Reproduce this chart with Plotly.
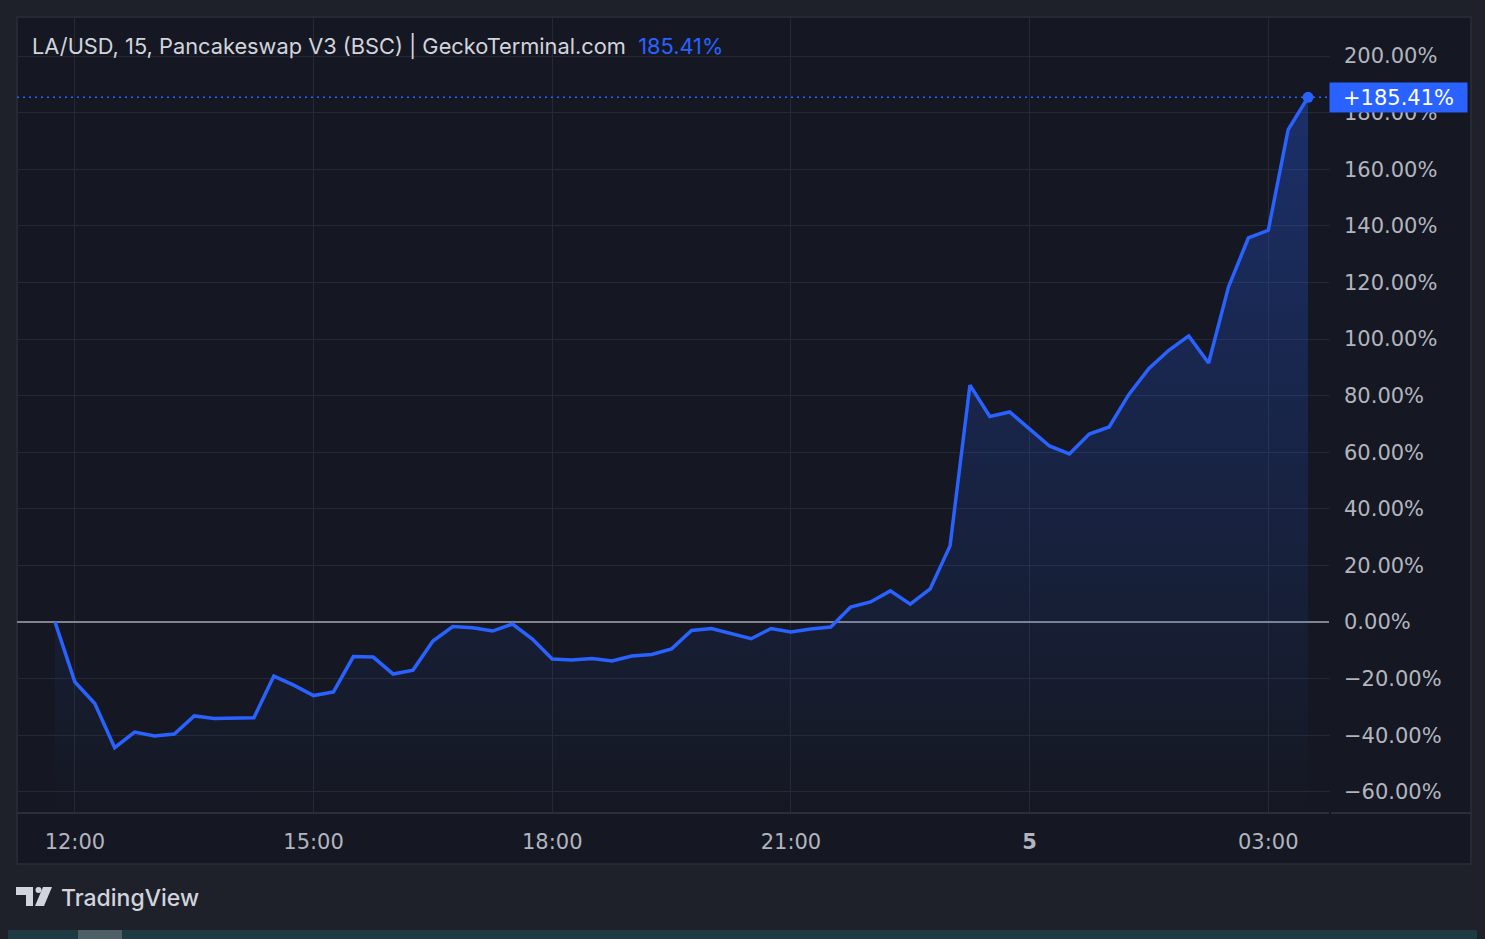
import pandas as pd
import plotly.graph_objects as go

# ---------------- data ----------------
START_TIME = "2025-06-04 11:45"
INTERVAL = "15min"
pct_change = [0, -21.2, -28.8, -44.4, -38.9, -40.3, -39.6, -33.2, -34.1, -33.9,
              -33.8, -19.1, -22.3, -26.0, -24.7, -12.2, -12.4, -18.4, -17.0, -6.7,
              -1.6, -2.0, -3.2, -0.7, -6.0, -13.1, -13.4, -12.9, -13.8, -12.0,
              -11.5, -9.5, -3.0, -2.3, -4.2, -5.9, -2.3, -3.5, -2.5, -1.8,
              5.3, 7.1, 11.0, 6.3, 11.7, 26.9, 83.7, 72.6, 74.2, 68.0,
              62.2, 59.4, 66.4, 68.9, 80.5, 89.6, 96.0, 101.1, 91.5, 118.4,
              135.7, 138.4, 174.0, 185.41]
times = pd.date_range(START_TIME, periods=len(pct_change), freq=INTERVAL)

x_tick_times = ["2025-06-04 12:00", "2025-06-04 15:00", "2025-06-04 18:00",
                "2025-06-04 21:00", "2025-06-05 00:00", "2025-06-05 03:00"]
x_tick_labels = ["12:00", "15:00", "18:00", "21:00", "<b>5</b>", "03:00"]
y_tick_values = [-60, -40, -20, 0, 20, 40, 60, 80, 100, 120, 140, 160, 180, 200]
y_tick_labels = [("\u2212" if v < 0 else "") + f"{abs(v):.2f}%" for v in y_tick_values]

X_RANGE = ["2025-06-04 11:16:20", "2025-06-05 03:45:48"]
Y_RANGE = [-67.49, 213.78]

title_text = "LA/USD, 15, Pancakeswap V3 (BSC) | GeckoTerminal.com"
last_value = pct_change[-1]

# ---------------- styling ----------------
OFF = 8                      # page body margin
PAGE_W, PAGE_H = 1485, 939
W, H = PAGE_W - OFF, PAGE_H - OFF
PLOT_L, PLOT_R, PLOT_T, PLOT_B = 17, 1329, 17, 813   # page pixels
ML, MT = PLOT_L - OFF, PLOT_T - OFF
MR, MB = W - (PLOT_R - OFF), H - (PLOT_B - OFF)
PW, PH = PLOT_R - PLOT_L, PLOT_B - PLOT_T
BLUE = "#2962ff"
OUTER_BG = "#1e212a"
INNER_BG = "#151822"
GRID = "#252934"
TEXT = "#b2b5be"
FONT = "Inter, Roboto, sans-serif"
NUM_FONT = "DejaVu Sans, sans-serif"


def px_x(p):
    return (p - PLOT_L) / PW


def px_y(p):
    return (PLOT_B - p) / PH


fig = go.Figure()

# floor trace for the area fill (bottom of the y range)
fig.add_trace(go.Scatter(x=times, y=[Y_RANGE[0]] * len(times), mode="lines",
                         line=dict(width=0), hoverinfo="skip", showlegend=False))
fig.add_trace(go.Scatter(
    x=times, y=pct_change, mode="lines",
    line=dict(color=BLUE, width=3.5),
    fill="tonexty",
    fillgradient=dict(type="vertical",
                      colorscale=[[0, "rgba(41,98,255,0.0)"], [1, "rgba(41,98,255,0.32)"]],
                      start=Y_RANGE[0], stop=last_value),
    hoverinfo="skip", showlegend=False))
fig.add_trace(go.Scatter(x=[times[-1]], y=[last_value], mode="markers",
                         marker=dict(color=BLUE, size=11), hoverinfo="skip",
                         showlegend=False))

shapes = [
    # chart frame
    dict(type="rect", xref="paper", yref="paper", x0=0, x1=px_x(1471),
         y0=px_y(864), y1=1, fillcolor=INNER_BG, line=dict(color="#2a2e39", width=1.5),
         layer="below"),
    # separator between plot and time axis
    dict(type="line", xref="paper", yref="paper", x0=0, x1=1, y0=0, y1=0,
         line=dict(color="#2a2e39", width=2)),
    dict(type="line", xref="paper", yref="paper", x0=px_x(1331), x1=px_x(1471), y0=0, y1=0,
         line=dict(color="#2a2e39", width=2)),
    # last value dotted line
    dict(type="line", xref="paper", yref="y", x0=0, x1=1, y0=last_value, y1=last_value,
         line=dict(color=BLUE, width=1.5, dash="2px,4px")),
    # bottom strip (taskbar)
    dict(type="rect", xref="paper", yref="paper", x0=px_x(0), x1=px_x(PAGE_W + 10),
         y0=px_y(PAGE_H + 10), y1=px_y(930), fillcolor="#1e3a42", line=dict(width=0),
         layer="below"),
    dict(type="rect", xref="paper", yref="paper", x0=px_x(78), x1=px_x(122),
         y0=px_y(PAGE_H + 10), y1=px_y(930), fillcolor="#4f5f66", line=dict(width=0),
         layer="below"),
    # TradingView logo
    dict(type="path", xref="paper", yref="paper",
         path=(f"M{px_x(16)},{px_y(887)} L{px_x(33)},{px_y(887)} L{px_x(33)},{px_y(906)} "
               f"L{px_x(26)},{px_y(906)} L{px_x(26)},{px_y(895)} L{px_x(16)},{px_y(895)} Z"),
         fillcolor="#d1d4dc", line=dict(width=0)),
    dict(type="circle", xref="paper", yref="paper", x0=px_x(35.5), x1=px_x(41.5),
         y0=px_y(893), y1=px_y(887), fillcolor="#d1d4dc", line=dict(width=0)),
    dict(type="path", xref="paper", yref="paper",
         path=(f"M{px_x(43)},{px_y(887)} L{px_x(52)},{px_y(887)} L{px_x(44)},{px_y(906)} "
               f"L{px_x(35)},{px_y(906)} Z"),
         fillcolor="#d1d4dc", line=dict(width=0)),
]

annotations = [
    dict(xref="paper", yref="paper", x=px_x(30), y=px_y(46), xanchor="left", yanchor="middle",
         showarrow=False,
         text=f"{title_text}  <span style='color:{BLUE}'>{last_value:.2f}%</span>",
         font=dict(family=FONT, size=21.8, color="#d1d4dc")),
    dict(xref="paper", yref="y", x=1, y=last_value, xanchor="left", yanchor="middle",
         showarrow=False, text=f"+{last_value:.2f}%", bgcolor=BLUE,
         width=133, height=25, borderpad=2, align="center",
         font=dict(family=NUM_FONT, size=21, color="#ffffff")),
    dict(xref="paper", yref="paper", x=px_x(59), y=px_y(898), xanchor="left", yanchor="middle",
         showarrow=False, text="TradingView",
         font=dict(family=FONT, size=23, color="#d1d4dc", weight=500)),
]

fig.update_layout(
    width=W, height=H, autosize=False,
    margin=dict(l=ML, r=MR, t=MT, b=MB, pad=0),
    paper_bgcolor=OUTER_BG, plot_bgcolor=INNER_BG,
    showlegend=False, hovermode=False,
    shapes=shapes, annotations=annotations,
    xaxis=dict(range=X_RANGE, tickvals=x_tick_times, ticktext=x_tick_labels,
               showgrid=True, gridcolor=GRID, gridwidth=1, zeroline=False,
               showline=False, ticks="", ticklabelstandoff=14,
               tickfont=dict(family=NUM_FONT, size=21, color=TEXT), fixedrange=True),
    yaxis=dict(range=Y_RANGE, side="right", tickvals=y_tick_values, ticktext=y_tick_labels,
               showgrid=True, gridcolor=GRID, gridwidth=1,
               zeroline=True, zerolinecolor="#80838d", zerolinewidth=1.5,
               showline=False, ticks="", ticklabelstandoff=14,
               tickfont=dict(family=NUM_FONT, size=21, color=TEXT), fixedrange=True),
)

fig.write_html(
    "out.html",
    post_script=(f"document.body.style.background='{OUTER_BG}';"
                 f"document.documentElement.style.background='{OUTER_BG}';"),
)
